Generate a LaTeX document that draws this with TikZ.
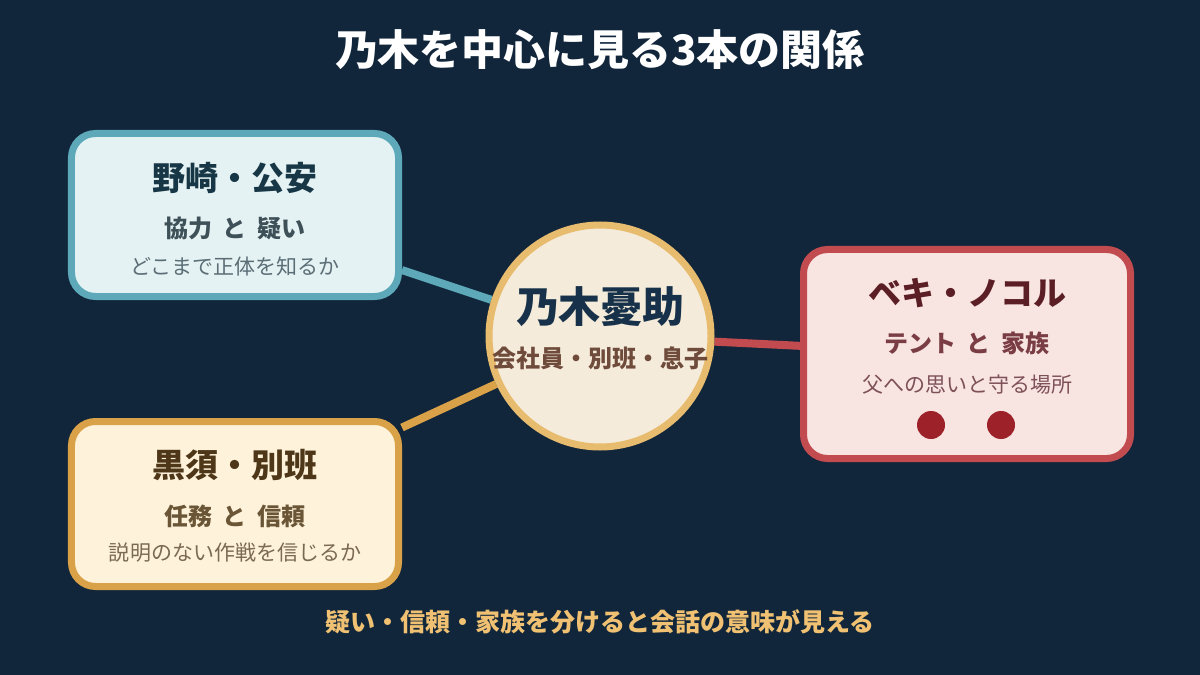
\documentclass[tikz,border=0pt]{standalone}
\usepackage{fontspec}
\setmainfont{Noto Sans CJK JP}
\usetikzlibrary{backgrounds}

\definecolor{bgnavy}{HTML}{11263B}
\definecolor{tealline}{HTML}{5DA9B9}
\definecolor{tealfill}{HTML}{E5F2F3}
\definecolor{tealhead}{HTML}{173746}
\definecolor{tealrole}{HTML}{3E5058}
\definecolor{tealnote}{HTML}{5B6E76}
\definecolor{goldline}{HTML}{D9A248}
\definecolor{goldfill}{HTML}{FEF2DA}
\definecolor{goldhead}{HTML}{4E3718}
\definecolor{goldrole}{HTML}{6A5636}
\definecolor{goldnote}{HTML}{7A6A55}
\definecolor{redline}{HTML}{C14B4F}
\definecolor{redfill}{HTML}{F8E4E1}
\definecolor{redhead}{HTML}{5B1E24}
\definecolor{redrole}{HTML}{7A3D44}
\definecolor{rednote}{HTML}{7E5158}
\definecolor{reddot}{HTML}{9C2128}
\definecolor{hubline}{HTML}{E8BC6E}
\definecolor{hubfill}{HTML}{F5EBDA}
\definecolor{hubhead}{HTML}{163149}
\definecolor{hubrole}{HTML}{6E4B3B}
\definecolor{footgold}{HTML}{F0C172}

\newcommand{\gap}{\hspace{0.45em}}

\begin{document}
\begin{tikzpicture}[x=1bp,y=-1bp]
\tikzstyle{card} = [draw,line width=7bp,rounded corners=24bp,minimum width=327bp,inner sep=0pt]
\tikzstyle{hub} = [draw,circle,line width=7bp,minimum size=222bp,inner sep=0pt]
\tikzstyle{link} = [line width=8bp]
\tikzstyle{big} = [font=\fontsize{42bp}{46bp}\selectfont\bfseries]
\tikzstyle{head} = [font=\fontsize{33bp}{36bp}\selectfont\bfseries]
\tikzstyle{role} = [font=\fontsize{24bp}{26bp}\selectfont\bfseries]
\tikzstyle{note} = [font=\fontsize{21bp}{24bp}\selectfont]
\tikzstyle{dot} = [circle,fill=reddot,minimum size=28bp,inner sep=0pt]
\node[big,text=white] (title) at (600,50) {乃木を中心に見る3本の関係};
\node[card,draw=tealline,fill=tealfill,minimum height=163bp] (noz) at (235,215) {};
\node[head,text=tealhead] (nozhead) at (235,178) {野崎・公安};
\node[role,text=tealrole] (nozrole) at (235,228) {協力\gap と\gap 疑い};
\node[note,text=tealnote] (noznote) at (235,266) {どこまで正体を知るか};
\node[card,draw=goldline,fill=goldfill,minimum height=165bp] (kuro) at (235,504) {};
\node[head,text=goldhead] (kurohead) at (235,465) {黒須・別班};
\node[role,text=goldrole] (kurorole) at (235,516) {任務\gap と\gap 信頼};
\node[note,text=goldnote] (kuronote) at (235,553) {説明のない作戦を信じるか};
\node[card,draw=redline,fill=redfill,minimum height=209bp] (beki) at (967,354) {};
\node[head,text=redhead] (bekihead) at (967,293) {ベキ・ノコル};
\node[role,text=redrole] (bekirole) at (967,343) {テント\gap と\gap 家族};
\node[note,text=rednote] (bekinote) at (967,385) {父への思いと守る場所};
\node[dot] (dotl) at (931,425) {};
\node[dot] (dotr) at (1001,425) {};
\node[hub,draw=hubline,fill=hubfill] (nogi) at (600,336) {};
\node[big,text=hubhead] (nogihead) at (600,307) {乃木憂助};
\node[role,text=hubrole] (nogirole) at (600,358) {会社員・別班・息子};
\node[role,font=\fontsize{25bp}{28bp}\selectfont\bfseries,text=footgold] (foot) at (600,622) {疑い・信頼・家族を分けると会話の意味が見える};
\begin{pgfonlayer}{background}
\fill[bgnavy] (0,0) rectangle (1200,675);
\draw[link,tealline] (nogi) -- (noz);
\draw[link,goldline] (nogi) -- (kuro);
\draw[link,redline] (nogi) -- (beki);
\end{pgfonlayer}
\end{tikzpicture}
\end{document}
